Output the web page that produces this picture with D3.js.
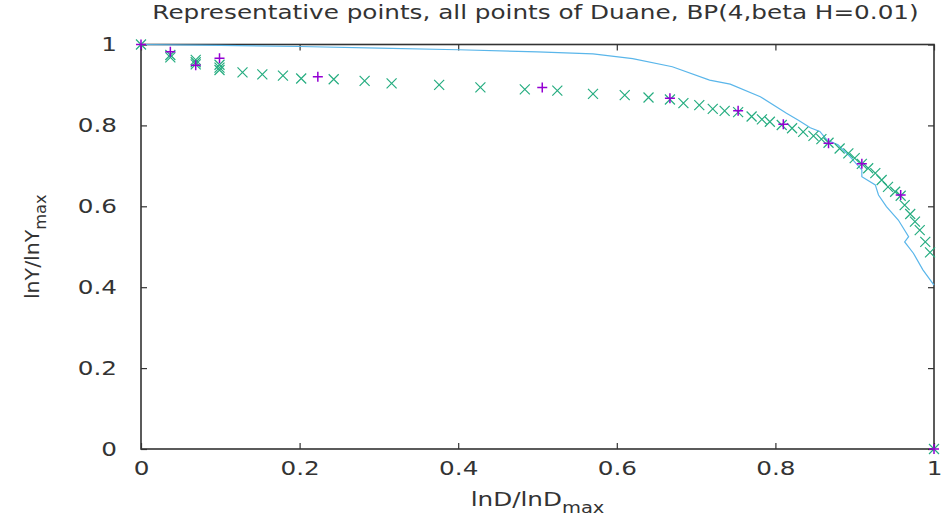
<!DOCTYPE html>
<html>
<head>
<meta charset="utf-8">
<script src="https://cdn.jsdelivr.net/npm/d3@7"></script>
<style>
  body { margin: 0; background: #fff; }
  svg text { font-family: "DejaVu Sans", sans-serif; fill: #333; }
</style>
</head>
<body>
<div id="container"></div>
<script>
// representative points (purple +)
var repX = [0, 0.037, 0.069, 0.099, 0.223, 0.506, 0.667, 0.753, 0.810, 0.867, 0.909, 0.958, 1];
var repY = [1, 0.982, 0.949, 0.966, 0.920, 0.894, 0.867, 0.836, 0.803, 0.756, 0.705, 0.628, 0];

// all points of Duane (green x)
var allX = [0, 0.037, 0.037, 0.069, 0.069, 0.069, 0.099, 0.099, 0.099, 0.128, 0.153, 0.179, 0.202,
  0.243, 0.282, 0.316, 0.376, 0.428, 0.484, 0.525, 0.570, 0.610, 0.640, 0.667, 0.684, 0.704,
  0.721, 0.736, 0.753, 0.770, 0.783, 0.793, 0.808, 0.821, 0.835, 0.848, 0.858, 0.867, 0.881,
  0.892, 0.900, 0.909, 0.917, 0.926, 0.934, 0.942, 0.951, 0.958, 0.963, 0.970, 0.976, 0.982,
  0.989, 0.995, 1];
var allY = [1, 0.974, 0.968, 0.962, 0.956, 0.951, 0.950, 0.943, 0.937, 0.931, 0.926, 0.923, 0.916,
  0.914, 0.910, 0.904, 0.900, 0.894, 0.889, 0.886, 0.878, 0.875, 0.869, 0.864, 0.855, 0.850,
  0.841, 0.836, 0.833, 0.822, 0.815, 0.809, 0.801, 0.793, 0.784, 0.774, 0.766, 0.757, 0.743,
  0.731, 0.719, 0.705, 0.694, 0.682, 0.665, 0.648, 0.636, 0.626, 0.603, 0.581, 0.562, 0.541,
  0.512, 0.486, 0];

// fitted curve (light blue line)
var curveX = [0, 0.1, 0.2, 0.3, 0.4, 0.5, 0.57, 0.62, 0.67, 0.717, 0.743, 0.781, 0.814, 0.829,
  0.844, 0.856, 0.865, 0.879, 0.894, 0.909, 0.909, 0.926, 0.930, 0.940, 0.955, 0.968, 0.963,
  0.974, 0.986, 1];
var curveY = [1, 0.998, 0.995, 0.991, 0.987, 0.982, 0.977, 0.965, 0.945, 0.912, 0.902, 0.871,
  0.830, 0.813, 0.794, 0.785, 0.764, 0.752, 0.723, 0.690, 0.673, 0.653, 0.628, 0.599, 0.566,
  0.525, 0.512, 0.484, 0.443, 0.405];

var tickVals = [0, 0.2, 0.4, 0.6, 0.8, 1];
var titleText = "Representative points, all points of Duane, BP(4,beta H=0.01)";

//--------------------------- SETUP ---------------------------//
const width = 943;
const height = 525;
const plotL = 141, plotR = 934, plotT = 44.5, plotB = 449;
const stretch = 1.3; // text in the picture is drawn wider than normal

const svg = d3.select("#container").append("svg")
    .attr("width", width)
    .attr("height", height);

const xScale = d3.scaleLinear().domain([0, 1]).range([plotL, plotR]);
const yScale = d3.scaleLinear().domain([0, 1]).range([plotB, plotT]);

const fmt = d => d === 0 || d === 1 ? String(d) : d.toFixed(1);

//--------------------------- AXES ----------------------------//
const axisStyle = g => {
  g.select(".domain").remove();
  g.selectAll(".tick line").attr("stroke", "#333").attr("stroke-width", 1.2);
  g.selectAll(".tick text")
      .style("font-size", "19px").attr("fill", "#333")
      .each(function() {
        const t = d3.select(this);
        const tx = +t.attr("x") || 0, ty = +t.attr("y") || 0;
        t.attr("x", 0).attr("y", 0)
         .attr("transform", "translate(" + tx + "," + ty + ") scale(" + stretch + ",1)");
      });
};

svg.append("g")
    .attr("transform", "translate(0," + plotB + ")")
    .call(d3.axisBottom(xScale).tickValues(tickVals).tickFormat(fmt)
      .tickSizeInner(-6).tickSizeOuter(0).tickPadding(13))
    .call(axisStyle);

svg.append("g")
    .attr("transform", "translate(0," + plotT + ")")
    .call(d3.axisTop(xScale).tickValues(tickVals).tickFormat("")
      .tickSizeInner(-6).tickSizeOuter(0))
    .call(axisStyle);

svg.append("g")
    .attr("transform", "translate(" + plotL + ",0)")
    .call(d3.axisLeft(yScale).tickValues(tickVals).tickFormat(fmt)
      .tickSizeInner(-6).tickSizeOuter(0).tickPadding(24))
    .call(axisStyle);

svg.append("g")
    .attr("transform", "translate(" + plotR + ",0)")
    .call(d3.axisRight(yScale).tickValues(tickVals).tickFormat("")
      .tickSizeInner(-6).tickSizeOuter(0))
    .call(axisStyle);

// frame
svg.append("rect")
    .attr("x", plotL).attr("y", plotT)
    .attr("width", plotR - plotL).attr("height", plotB - plotT)
    .attr("fill", "none").attr("stroke", "#333").attr("stroke-width", 1.6);

//--------------------------- CURVE ---------------------------//
const curve = curveX.map((x, i) => ({x: x, y: curveY[i]}));
svg.append("path")
    .datum(curve)
    .attr("fill", "none")
    .attr("stroke", "#5ab6ea")
    .attr("stroke-width", 1.2)
    .attr("d", d3.line().x(d => xScale(d.x)).y(d => yScale(d.y)));

//--------------------------- POINTS --------------------------//
const all = allX.map((x, i) => ({x: x, y: allY[i]}));
const rep = repX.map((x, i) => ({x: x, y: repY[i]}));
const s = 5;

svg.append("g").selectAll("path")
    .data(all)
    .enter().append("path")
    .attr("transform", d => "translate(" + xScale(d.x) + "," + yScale(d.y) + ")")
    .attr("d", "M" + -s + "," + -s + "L" + s + "," + s + "M" + -s + "," + s + "L" + s + "," + -s)
    .attr("stroke", "#26ad80")
    .attr("stroke-width", 1.2)
    .attr("fill", "none");

svg.append("g").selectAll("path")
    .data(rep)
    .enter().append("path")
    .attr("transform", d => "translate(" + xScale(d.x) + "," + yScale(d.y) + ")")
    .attr("d", "M" + -s + ",0L" + s + ",0M0," + -s + "L0," + s)
    .attr("stroke", "#9400d3")
    .attr("stroke-width", 1.5)
    .attr("fill", "none");

//--------------------------- LABELS --------------------------//
svg.append("text")
    .attr("transform", "translate(" + ((plotL + plotR) / 2 - 2) + ",19) scale(" + stretch + ",1)")
    .attr("text-anchor", "middle")
    .style("font-size", "19px")
    .text(titleText);

const xl = svg.append("text")
    .attr("transform", "translate(" + ((plotL + plotR) / 2) + ",506) scale(" + stretch + ",1)")
    .attr("text-anchor", "middle")
    .style("font-size", "19px");
xl.append("tspan").text("lnD/lnD");
xl.append("tspan").attr("dy", 7).style("font-size", "15px").text("max");

const yl = svg.append("text")
    .attr("transform", "translate(39," + ((plotT + plotB) / 2) + ") rotate(-90) scale(1.08,1)")
    .attr("text-anchor", "middle")
    .style("font-size", "19px");
yl.append("tspan").text("lnY/lnY");
yl.append("tspan").attr("dy", 7).style("font-size", "15px").text("max");
</script>
</body>
</html>
